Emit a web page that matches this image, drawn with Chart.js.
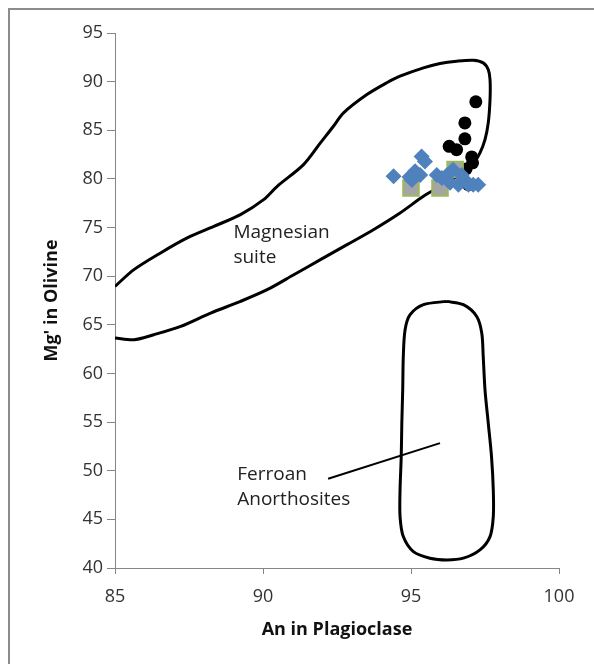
<!DOCTYPE html>
<html>
<head>
<meta charset="utf-8">
<script src="https://cdn.jsdelivr.net/npm/chart.js@4.4.1/dist/chart.umd.min.js"></script>
<style>
  html, body { margin: 0; padding: 0; background: #fff; overflow: hidden; }
  canvas { display: block; }
</style>
</head>
<body>
<canvas id="chart" width="594" height="664"></canvas>
<script>
// axis ranges and tick step
const xRange = [85, 100];
const yRange = [40, 95];
const tickStep = 5;

// blue diamonds
const diamondX = [94.41, 95.36, 95.47, 95.14, 94.95, 95.03, 95.31, 95.87, 96.04, 96.22, 96.32, 96.6, 96.82, 96.94, 97.1, 97.27, 96.71, 96.42];
const diamondY = [80.27, 82.3, 81.8, 80.8, 80.2, 79.9, 80.4, 80.4, 80.1, 80.4, 79.6, 79.4, 79.9, 79.4, 79.4, 79.4, 80.4, 80.95];

// grey squares
const squareX = [95.0, 95.98, 96.49];
const squareY = [79.07, 79.07, 80.96];

// black circles
const circleX = [97.19, 96.82, 96.82, 96.29, 96.54, 97.05, 97.08, 96.86, 96.94];
const circleY = [87.92, 85.76, 84.12, 83.35, 83.01, 82.26, 81.65, 81.03, 79.41];

// Magnesian suite outline
const magX = [85.0, 85.64, 86.54, 87.44, 88.34, 89.24, 90.02, 90.48, 91.37, 91.94, 92.38, 92.72, 93.51, 94.18, 94.63, 95.42, 95.98, 96.54, 97.1, 97.44, 97.61, 97.67, 97.67, 97.61, 97.5, 97.33, 97.16, 96.99, 96.66, 95.98, 95.42, 94.63, 93.73, 92.84, 91.94, 91.04, 90.14, 89.24, 88.23, 87.22, 86.31, 85.64, 85.0];
const magY = [68.95, 70.67, 72.39, 73.93, 75.12, 76.33, 77.87, 79.24, 81.47, 83.7, 85.41, 86.79, 88.67, 89.88, 90.56, 91.42, 91.86, 92.1, 92.2, 91.93, 91.24, 90.22, 88.16, 85.76, 84.04, 82.67, 81.81, 81.3, 80.44, 79.21, 78.21, 76.5, 74.78, 73.24, 71.7, 70.15, 68.61, 67.41, 66.21, 64.84, 63.98, 63.47, 63.64];

// Ferroan Anorthosites outline
const ferX = [96.21, 96.77, 97.22, 97.39, 97.44, 97.5, 97.61, 97.72, 97.78, 97.78, 97.67, 97.33, 96.77, 96.21, 95.64, 95.08, 94.74, 94.63, 94.63, 94.67, 94.69, 94.72, 94.74, 94.8, 94.97, 95.42, 96.21];
const ferY = [67.41, 67.07, 65.86, 64.16, 61.75, 58.32, 54.9, 51.46, 48.03, 45.29, 43.23, 41.86, 41.01, 40.83, 41.01, 41.69, 43.23, 45.29, 48.03, 51.46, 54.9, 58.32, 61.75, 64.5, 66.04, 67.07, 67.41];

// pointer from the Ferroan label
const pointerX = [92.2, 95.98];
const pointerY = [49.17, 52.84];

// text labels (left edge, first baseline, in data units)
const labelLines = [['Magnesian', 'suite'], ['Ferroan', 'Anorthosites']];
const labelX = [89.0, 89.13];
const labelY = [73.96, 49.06];

function toPoints(xs, ys) {
    return xs.map((x, i) => ({ x: x, y: ys[i] }));
}

const frame = {
    id: 'frame',
    beforeDraw(chart) {
        const ctx = chart.ctx;
        ctx.save();
        ctx.fillStyle = '#fff';
        ctx.fillRect(0, 0, chart.width, chart.height);
        ctx.strokeStyle = '#8c8c8c';
        ctx.lineWidth = 2;
        ctx.strokeRect(9, 9, 700, 700);
        ctx.restore();
    },
    afterDraw(chart) {
        const ctx = chart.ctx;
        const sx = chart.scales.x;
        const sy = chart.scales.y;
        ctx.save();
        ctx.font = '19px "Open Sans"';
        ctx.fillStyle = '#222';
        ctx.textAlign = 'left';
        ctx.textBaseline = 'alphabetic';
        labelLines.forEach((lines, i) => {
            const px = sx.getPixelForValue(labelX[i]);
            const py = sy.getPixelForValue(labelY[i]);
            lines.forEach((t, j) => ctx.fillText(t, px, py + j * 25));
        });
        ctx.restore();
    }
};

const tickFont = { family: 'Open Sans', size: 18 };
const titleFont = { family: 'Open Sans', size: 18, weight: 'bold' };

new Chart(document.getElementById('chart'), {
    type: 'scatter',
    data: {
        datasets: [
            {
                data: toPoints(diamondX, diamondY),
                pointStyle: 'rectRot',
                pointRadius: 8,
                backgroundColor: '#4f81bd',
                borderColor: '#4f81bd',
                borderWidth: 0
            },
            {
                data: toPoints(squareX, squareY),
                pointStyle: 'rect',
                pointRadius: 11,
                backgroundColor: '#a5a5a5',
                borderColor: '#9bbb59',
                borderWidth: 2
            },
            {
                data: toPoints(circleX, circleY),
                pointStyle: 'circle',
                pointRadius: 6.5,
                backgroundColor: '#000',
                borderColor: '#000',
                borderWidth: 0
            },
            {
                data: toPoints(magX, magY),
                showLine: true,
                pointRadius: 0,
                borderColor: '#000',
                borderWidth: 3,
                tension: 0.3,
                fill: false
            },
            {
                data: toPoints(ferX, ferY),
                showLine: true,
                pointRadius: 0,
                borderColor: '#000',
                borderWidth: 3,
                tension: 0.3,
                fill: false
            },
            {
                data: toPoints(pointerX, pointerY),
                showLine: true,
                pointRadius: 0,
                borderColor: '#000',
                borderWidth: 2,
                fill: false
            }
        ]
    },
    options: {
        responsive: false,
        animation: false,
        layout: { padding: { top: 33, right: 35, bottom: 0, left: 0 } },
        plugins: {
            legend: { display: false },
            tooltip: { enabled: false }
        },
        scales: {
            x: {
                type: 'linear',
                min: xRange[0],
                max: xRange[1],
                afterFit(scale) { scale.height = 96; },
                ticks: { stepSize: tickStep, font: tickFont, color: '#333', padding: 12 },
                grid: { drawOnChartArea: false, tickLength: 6, color: '#868686' },
                border: { color: '#868686', width: 1 },
                title: {
                    display: true,
                    text: 'An in Plagioclase',
                    font: titleFont,
                    color: '#111',
                    padding: { top: 0, bottom: 23 }
                }
            },
            y: {
                type: 'linear',
                min: yRange[0],
                max: yRange[1],
                afterFit(scale) { scale.width = 115; },
                ticks: { stepSize: tickStep, font: tickFont, color: '#333', padding: 4 },
                grid: { drawOnChartArea: false, tickLength: 8, color: '#868686' },
                border: { color: '#868686', width: 1 },
                title: {
                    display: true,
                    text: "Mg' in Olivine",
                    font: titleFont,
                    color: '#111',
                    padding: { top: 41, bottom: 0 }
                }
            }
        }
    },
    plugins: [frame]
});
</script>
</body>
</html>
